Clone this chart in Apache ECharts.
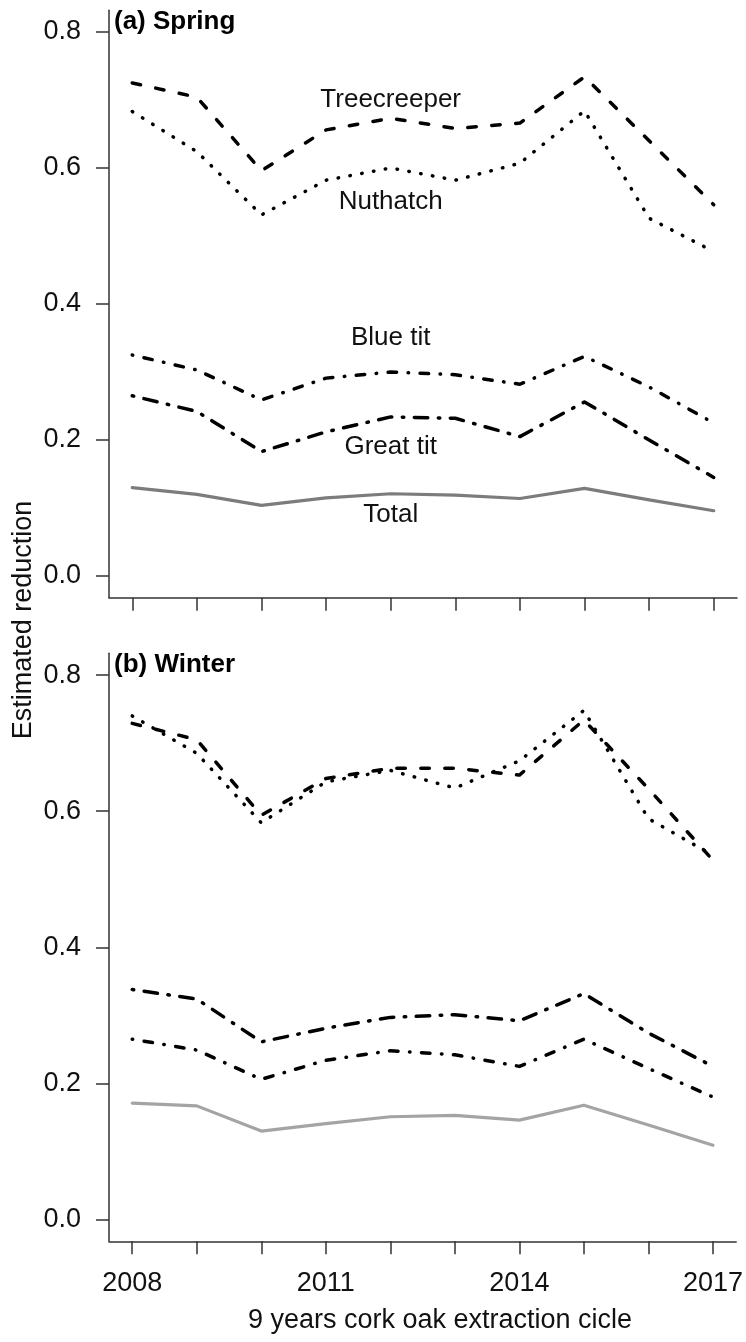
<!DOCTYPE html>
<html>
<head>
<meta charset="utf-8">
<title>Estimated reduction</title>
<script src="https://cdn.jsdelivr.net/npm/echarts@6/dist/echarts.min.js"></script>
<style>
  html, body { margin: 0; padding: 0; background: #fff; }
  #chart { width: 746px; height: 1342px; }
</style>
</head>
<body>
<div id="chart"></div>
<script>
// Years of the 9-year cork oak extraction cycle
const years = [2008, 2009, 2010, 2011, 2012, 2013, 2014, 2015, 2016, 2017];
const yearLabels = [2008, 2011, 2014, 2017];
const yTicks = [0, 0.2, 0.4, 0.6, 0.8];

// (a) Spring
const springTreecreeper = [0.725, 0.704, 0.596, 0.656, 0.673, 0.658, 0.666, 0.734, 0.640, 0.546];
const springNuthatch    = [0.683, 0.624, 0.531, 0.582, 0.600, 0.582, 0.607, 0.684, 0.526, 0.477];
const springBlueTit     = [0.325, 0.303, 0.259, 0.291, 0.300, 0.296, 0.282, 0.323, 0.278, 0.225];
const springGreatTit    = [0.265, 0.242, 0.183, 0.212, 0.234, 0.232, 0.205, 0.256, 0.200, 0.145];
const springTotal       = [0.130, 0.120, 0.104, 0.115, 0.121, 0.119, 0.114, 0.129, 0.112, 0.096];

// (b) Winter
const winterTreecreeper = [0.729, 0.705, 0.594, 0.648, 0.663, 0.663, 0.653, 0.734, 0.633, 0.528];
const winterNuthatch    = [0.740, 0.685, 0.583, 0.643, 0.660, 0.634, 0.674, 0.748, 0.589, 0.535];
const winterGreatTit    = [0.338, 0.324, 0.261, 0.281, 0.297, 0.301, 0.292, 0.332, 0.274, 0.225];
const winterBlueTit     = [0.265, 0.249, 0.206, 0.234, 0.248, 0.242, 0.225, 0.265, 0.222, 0.180];
const winterTotal       = [0.171, 0.167, 0.130, 0.141, 0.151, 0.153, 0.146, 0.168, 0.139, 0.109];

// Species names written inside panel (a), placed at year 2012
const speciesNames  = ['Treecreeper', 'Nuthatch', 'Blue tit', 'Great tit', 'Total'];
const speciesLabelY = [0.70, 0.55, 0.35, 0.19, 0.09];
const labelYear = 2012;

const FONT = 'Liberation Sans, Arial, Helvetica, sans-serif';
const AXIS_COLOR = '#333';
const TEXT_COLOR = '#111';

// Line types (round caps, like the R device)
const DASHED   = [8.5, 15.5];
const DOTTED   = [0.5, 11.5];
const DOTDASH  = [0.5, 11.5, 8.5, 11.5];
const TWODASH  = [1.5, 10.5, 13.5, 10.5];

function pairs(vals) { return years.map((y, i) => [y, vals[i]]); }

function lineSeries(idx, vals, dash, color, width) {
  return {
    type: 'line',
    xAxisIndex: idx,
    yAxisIndex: idx,
    data: pairs(vals),
    symbol: 'none',
    silent: true,
    lineStyle: { color: color, width: width, type: dash, cap: 'round', join: 'round' }
  };
}

function xAxisFor(idx, showLabels) {
  return {
    type: 'value',
    gridIndex: idx,
    min: 2007.64,
    max: 2017.36,
    axisLine: { show: true, onZero: false, lineStyle: { color: AXIS_COLOR, width: 1.5 } },
    axisTick: { show: true, length: 13, customValues: years, lineStyle: { color: AXIS_COLOR, width: 1.5 } },
    axisLabel: {
      show: showLabels,
      customValues: yearLabels,
      margin: 29,
      fontSize: 27,
      fontFamily: FONT,
      color: TEXT_COLOR,
      formatter: v => String(v)
    },
    splitLine: { show: false }
  };
}

function yAxisFor(idx) {
  return {
    type: 'value',
    gridIndex: idx,
    min: -0.032,
    max: 0.832,
    axisLine: { show: true, onZero: false, lineStyle: { color: AXIS_COLOR, width: 1.5 } },
    axisTick: { show: true, length: 13, customValues: yTicks, lineStyle: { color: AXIS_COLOR, width: 1.5 } },
    axisLabel: {
      show: true,
      customValues: yTicks,
      margin: 28,
      fontSize: 27,
      fontFamily: FONT,
      color: TEXT_COLOR,
      formatter: v => v.toFixed(1)
    },
    splitLine: { show: false }
  };
}

const chart = echarts.init(document.getElementById('chart'), null, { renderer: 'canvas' });

chart.setOption({
  animation: false,
  backgroundColor: '#fff',
  grid: [
    { left: 109, right: 9, top: 10.2, height: 587.6 },
    { left: 109, right: 9, top: 653.3, height: 588 }
  ],
  xAxis: [xAxisFor(0, false), xAxisFor(1, true)],
  yAxis: [yAxisFor(0), yAxisFor(1)],
  series: [
    lineSeries(0, springTotal, 'solid', '#7c7c7c', 3.2),
    lineSeries(0, springGreatTit, TWODASH, '#000', 3.5),
    lineSeries(0, springBlueTit, DOTDASH, '#000', 3.5),
    lineSeries(0, springNuthatch, DOTTED, '#000', 3.5),
    lineSeries(0, springTreecreeper, DASHED, '#000', 3.5),

    lineSeries(1, winterTotal, 'solid', '#a4a4a4', 3.2),
    lineSeries(1, winterBlueTit, DOTDASH, '#000', 3.5),
    lineSeries(1, winterGreatTit, TWODASH, '#000', 3.5),
    lineSeries(1, winterTreecreeper, DASHED, '#000', 3.5),
    lineSeries(1, winterNuthatch, DOTTED, '#000', 3.5),

    {
      // species names, positioned through the panel (a) axes
      type: 'scatter',
      xAxisIndex: 0,
      yAxisIndex: 0,
      silent: true,
      symbolSize: 0.1,
      itemStyle: { color: '#fff', opacity: 1 },
      data: speciesNames.map((n, i) => [labelYear, speciesLabelY[i], n]),
      label: {
        show: true,
        position: 'inside',
        formatter: p => p.value[2],
        fontSize: 26,
        fontFamily: FONT,
        color: TEXT_COLOR,
        opacity: 1,
        textBorderWidth: 0
      }
    }
  ],
  graphic: [
    {
      type: 'text', left: 114, top: 9,
      style: { text: '(a) Spring', font: 'bold 26px ' + FONT, fill: '#000' }
    },
    {
      type: 'text', left: 114, top: 652,
      style: { text: '(b) Winter', font: 'bold 26px ' + FONT, fill: '#000' }
    },
    {
      type: 'text', x: 440, y: 1320.5,
      style: { text: '9 years cork oak extraction cicle', font: '27px ' + FONT, fill: TEXT_COLOR, align: 'center', verticalAlign: 'middle' }
    },
    {
      type: 'text', x: 24, y: 620, rotation: Math.PI / 2,
      style: { text: 'Estimated reduction', font: '27px ' + FONT, fill: TEXT_COLOR, align: 'center', verticalAlign: 'middle' }
    }
  ]
});
</script>
</body>
</html>
